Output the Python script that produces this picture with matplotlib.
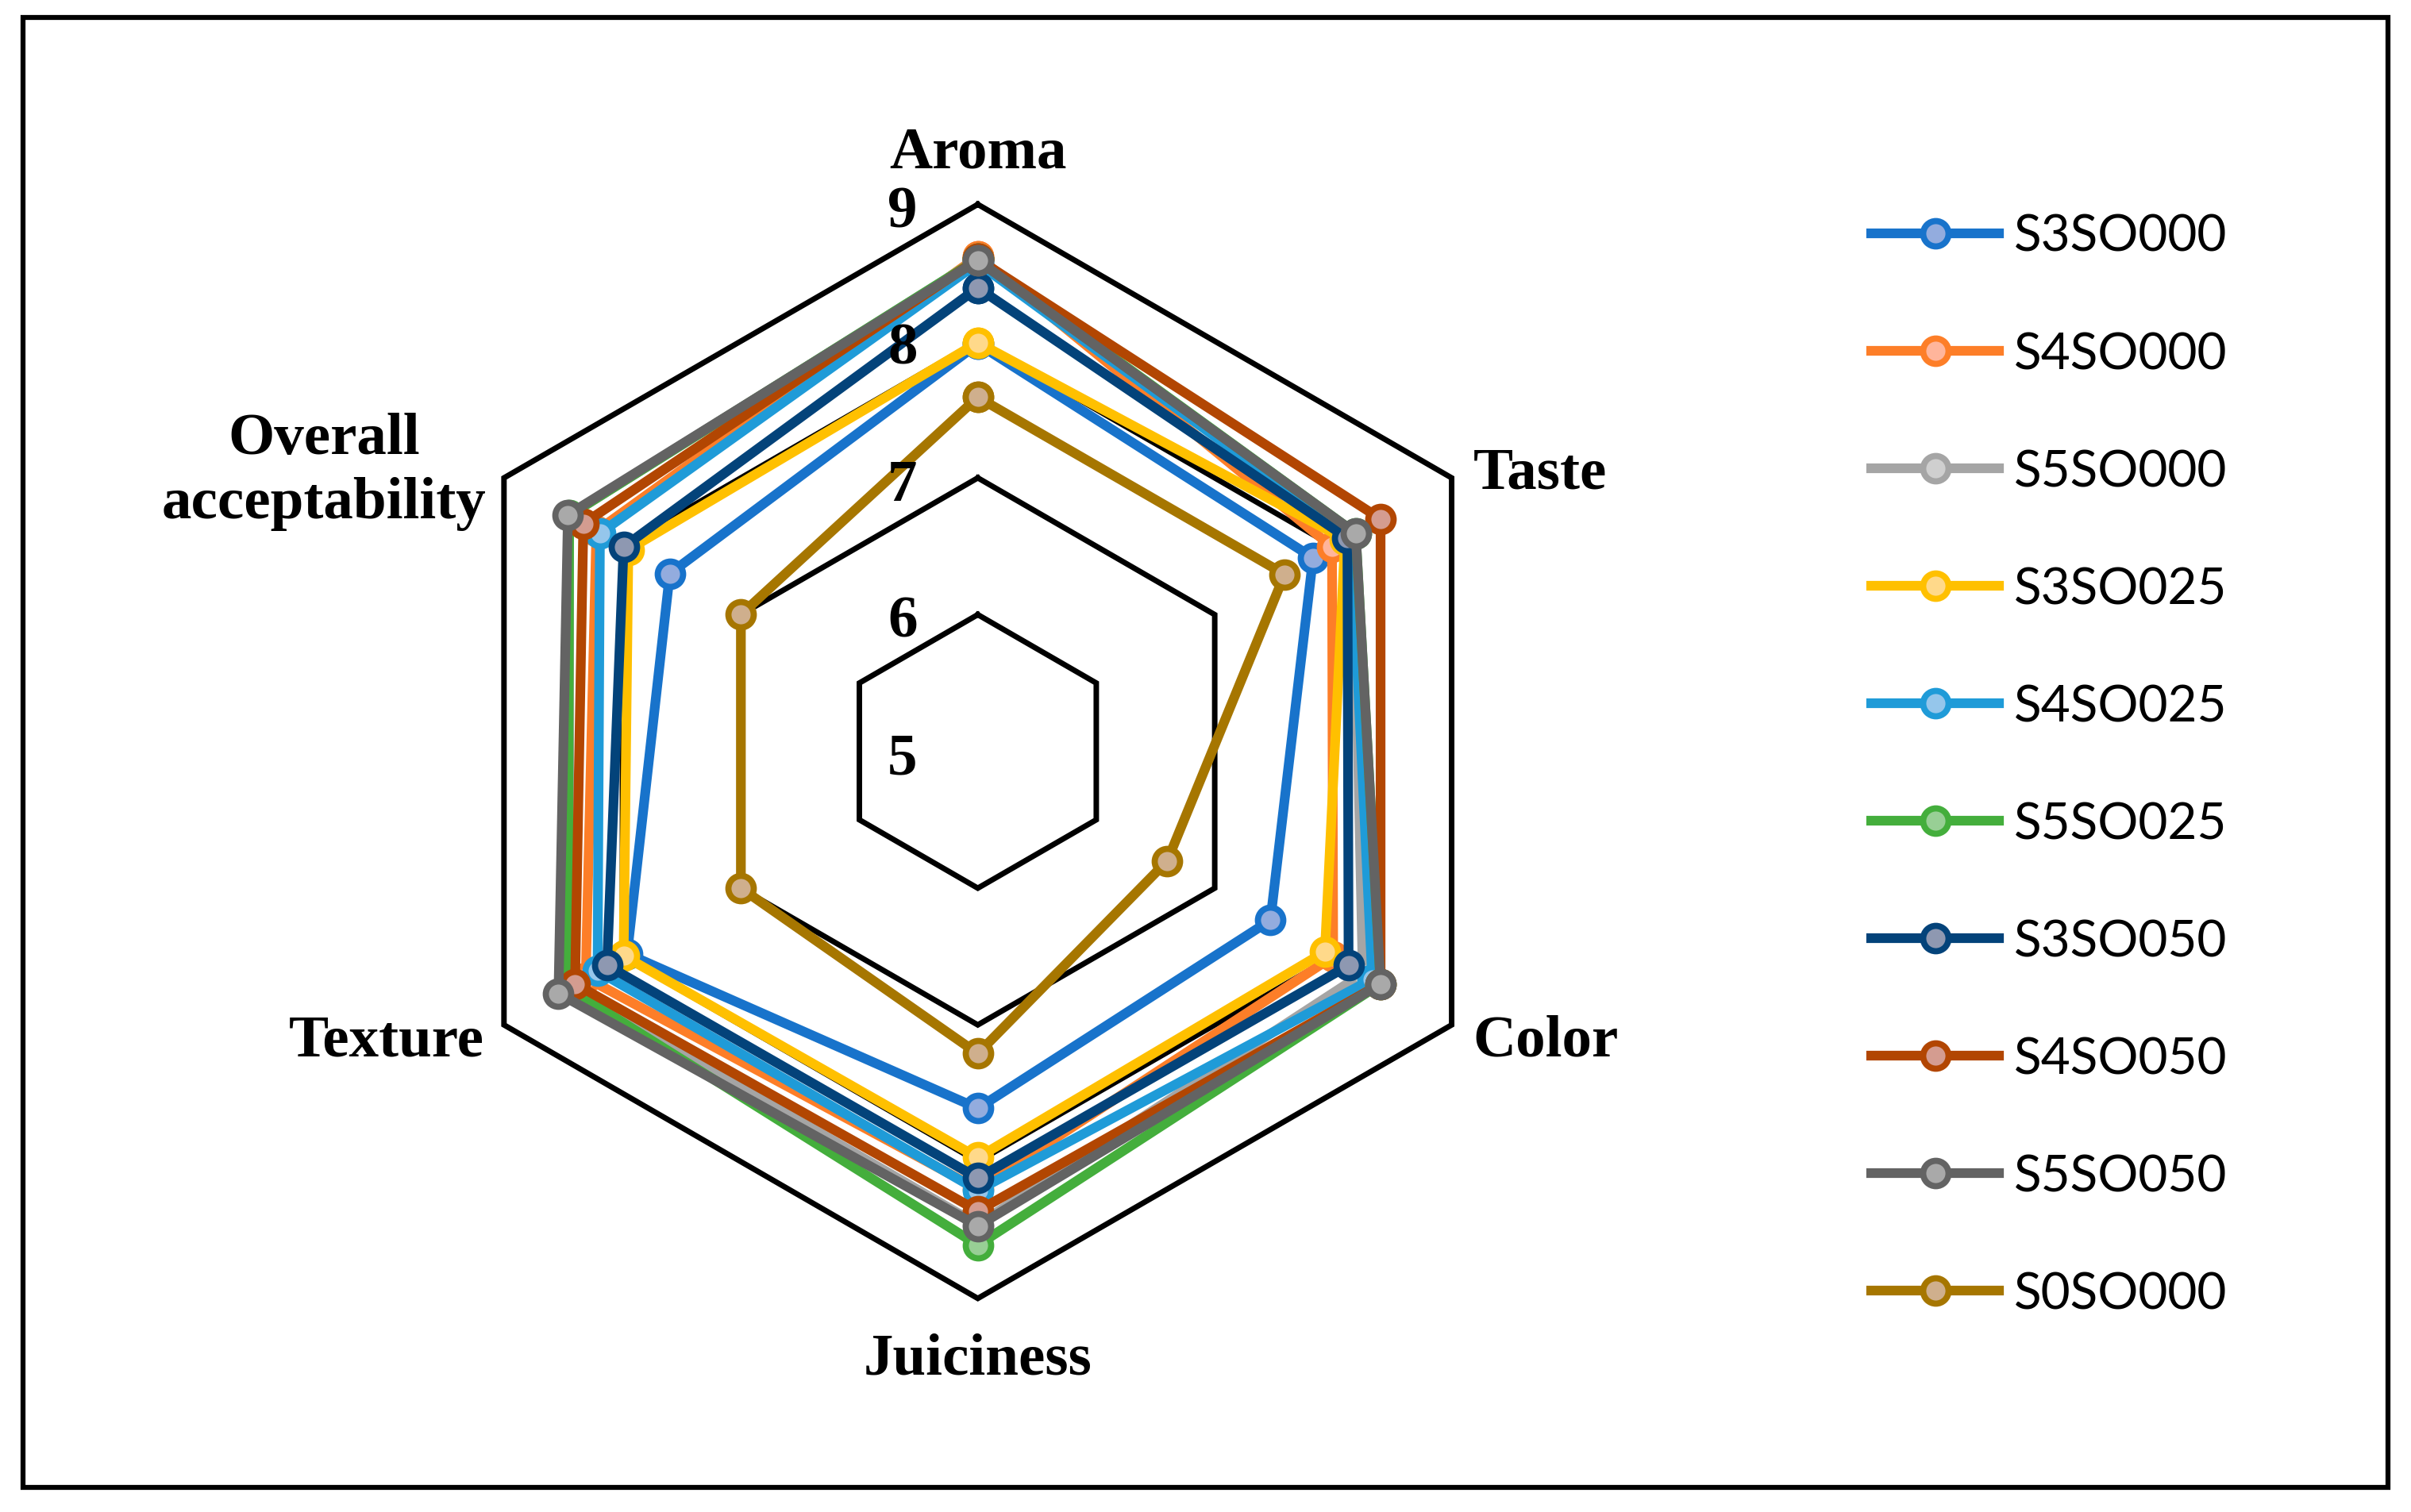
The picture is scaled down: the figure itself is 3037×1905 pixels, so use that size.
import numpy as np
import matplotlib
matplotlib.use("Agg")
import matplotlib.pyplot as plt
from matplotlib.patches import Rectangle

# ---------------- data ----------------
categories = ["Aroma", "Taste", "Color", "Juiciness", "Texture", "Overall\nacceptability"]
series_names = ["S3SO000", "S4SO000", "S5SO000", "S3SO025", "S4SO025",
                "S5SO025", "S3SO050", "S4SO050", "S5SO050", "S0SO000"]
S3SO000 = [7.98, 7.83, 7.47, 7.61, 7.96, 7.60]
S4SO000 = [8.62, 7.99, 8.00, 8.20, 8.31, 8.22]
S5SO000 = [8.60, 8.17, 8.25, 8.46, 8.45, 8.45]
S3SO025 = [7.99, 8.10, 7.93, 7.97, 7.99, 7.95]
S4SO025 = [8.57, 8.15, 8.33, 8.21, 8.21, 8.19]
S5SO025 = [8.60, 8.19, 8.40, 8.61, 8.46, 8.45]
S3SO050 = [8.39, 8.12, 8.13, 8.12, 8.13, 7.99]
S4SO050 = [8.60, 8.40, 8.40, 8.36, 8.40, 8.33]
S5SO050 = [8.59, 8.19, 8.40, 8.47, 8.54, 8.46]
S0SO000 = [7.59, 7.59, 6.60, 7.21, 7.00, 7.00]
series_values = [S3SO000, S4SO000, S5SO000, S3SO025, S4SO025,
                 S5SO025, S3SO050, S4SO050, S5SO050, S0SO000]
tick_values = [5, 6, 7, 8, 9]
r_min, r_max = 5, 9

line_colors = ["#1873CB", "#FD7E28", "#A5A5A5", "#FFC000", "#1F9BD8",
               "#44AE3C", "#03437A", "#B24602", "#636363", "#A67600"]
fill_colors = ["#93ACDE", "#FFB59B", "#CFCFCF", "#FFD98A", "#95C6EB",
               "#98CF95", "#8E98B1", "#D49C90", "#A9A9A9", "#CFAF8D"]

# ---------------- figure ----------------
W, H = 3037, 1906
dpi = 100
fig = plt.figure(figsize=(W / dpi, H / dpi), dpi=dpi)
fig.patch.set_facecolor("white")

cx, cy = 1231.7, 947.7      # pixel centre of radar
unit = 172.3                # pixels per score unit
xl, yl = 6.0, 5.0
ax = fig.add_axes([(cx - xl * unit) / W, (H - cy - yl * unit) / H,
                   2 * xl * unit / W, 2 * yl * unit / H])
ax.set_xlim(-xl, xl)
ax.set_ylim(-yl, yl)
ax.axis("off")

n = len(categories)
theta = np.arange(n) * 2 * np.pi / n
theta_c = np.append(theta, theta[0])


def to_xy(vals):
    v = np.append(np.asarray(vals, float), vals[0]) - r_min
    return v * np.sin(theta_c), v * np.cos(theta_c)


# hexagonal grid
for t in tick_values[1:]:
    gx, gy = to_xy([t] * n)
    ax.plot(gx, gy, color="black", lw=5, solid_joinstyle="miter", zorder=1)

serif = ["Liberation Serif", "DejaVu Serif"]
for t in tick_values:
    ax.text(-0.55, (t - r_min) - 0.16, str(t), ha="center", va="baseline",
            fontsize=54, fontweight="bold", family=serif, zorder=30)

# category labels
ax.text(0, 4.27, categories[0], ha="center", va="baseline",
        fontsize=54, fontweight="bold", family=serif)
ax.text(3.62, 1.93, categories[1], ha="left", va="baseline",
        fontsize=54, fontweight="bold", family=serif)
ax.text(3.62, -2.22, categories[2], ha="left", va="baseline",
        fontsize=54, fontweight="bold", family=serif)
ax.text(0, -4.55, categories[3], ha="center", va="baseline",
        fontsize=54, fontweight="bold", family=serif)
ax.text(-3.61, -2.22, categories[4], ha="right", va="baseline",
        fontsize=54, fontweight="bold", family=serif)
ax.text(-4.78, 2.05, categories[5], ha="center", va="center",
        fontsize=54, fontweight="bold", family=serif, linespacing=1.25,
        multialignment="center")

# series
handles = []
for i, (name, vals) in enumerate(zip(series_names, series_values)):
    x, y = to_xy(vals)
    h, = ax.plot(x, y, color=line_colors[i], lw=8.8, marker="o", ms=23,
                 mfc=fill_colors[i], mec=line_colors[i], mew=5.6,
                 solid_joinstyle="miter", label=name, zorder=10 + i)
    handles.append(h)

leg = fig.legend(handles=handles, labels=series_names, loc="upper left",
                 bbox_to_anchor=(2357 / W, 1 - 270 / H), frameon=False,
                 borderaxespad=0, borderpad=0, handlelength=2.52,
                 handletextpad=0.3, labelspacing=1.41, numpoints=1,
                 prop={"family": ["Lato", "DejaVu Sans"], "size": 46})

# outer frame
fig.patches.append(Rectangle((29 / W, 31 / H), (3008 - 29) / W, (1875 - 23) / H,
                             transform=fig.transFigure, fill=False,
                             edgecolor="black", lw=4.5))

fig.savefig("out.png", dpi=dpi, facecolor="white")
